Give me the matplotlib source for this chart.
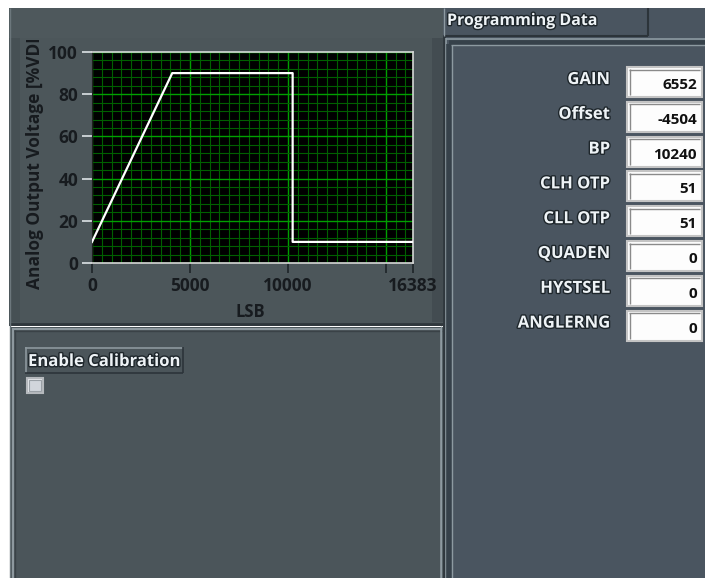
import matplotlib.pyplot as plt
import matplotlib.patheffects as pe
from matplotlib.patches import Rectangle
from matplotlib.transforms import Bbox
from matplotlib.ticker import MultipleLocator, FixedLocator

# ---- data ----
lsb = [0, 4096, 10240, 10240, 16383]
vout = [10, 90, 90, 10, 10]
x_ticks = [0, 5000, 10000, 15000, 16383]
x_ticklabels = ["0", "5000", "10000", "", "16383"]
y_ticks = [0, 20, 40, 60, 80, 100]

param_names = ["GAIN", "Offset", "BP", "CLH OTP", "CLL OTP", "QUADEN", "HYSTSEL", "ANGLERNG"]
param_values = ["6552", "-4504", "10240", "51", "51", "0", "0", "0"]

FONT = "Open Sans"
W, H = 705, 578
fig = plt.figure(figsize=(W / 100, H / 100), dpi=100, facecolor="white")

# background axes in pixel coordinates (y down)
bg = fig.add_axes([0, 0, 1, 1])
bg.set_xlim(0, W)
bg.set_ylim(H, 0)
bg.axis("off")


def rect(x0, y0, x1, y1, fc, ec="none", lw=0, z=1):
    bg.add_patch(Rectangle((x0, y0), x1 - x0, y1 - y0, facecolor=fc,
                           edgecolor=ec, linewidth=lw, zorder=z))


def hline(x0, x1, y, c, lw=1, z=2):
    bg.plot([x0, x1], [y, y], color=c, lw=lw, zorder=z, solid_capstyle="butt")


def vline(x, y0, y1, c, lw=1, z=2):
    bg.plot([x, x], [y0, y1], color=c, lw=lw, zorder=z, solid_capstyle="butt")


shadow = [pe.withStroke(linewidth=2, foreground="#1e262b")]

# ---- left top panel (graph) ----
rect(9, 8, 443, 326, "#4c565a")
rect(9, 8, 443, 38, "#4e585c", z=1.2)
rect(9, 38, 20, 322, "#465054", z=1.2)
rect(432, 38, 443, 322, "#434c51", z=1.2)
hline(9, 443, 324, "#30383d", lw=2)
vline(9.5, 8, 578, "#6c777c", lw=1)

# ---- left bottom panel ----
rect(11, 327, 443, 578, "#4b555a")
hline(12, 442, 328.5, "#8d989e", lw=1.5)
vline(12.5, 328, 578, "#8d989e", lw=1.5)
vline(14.5, 330, 578, "#3a4247", lw=1)
hline(14, 442, 331, "#3a4247", lw=1)
vline(441, 328, 578, "#8d989e", lw=1.2)

# ---- divider and right panel ----
rect(443, 8, W, H, "#4a5560")
vline(440.5, 326, 578, "#8d9aa1", lw=1)
vline(443.5, 8, 578, "#2f373d", lw=2)
vline(446, 38, 578, "#8d9aa1", lw=1.2)
vline(449, 44, 578, "#36414a", lw=4)
hline(446, W, 39, "#8d9aa1", lw=1.2)
hline(449, W, 42.5, "#36414a", lw=4)
vline(451.5, 45, 578, "#8d9aa1", lw=1)
hline(451, W, 45, "#8d9aa1", lw=1)

# "Programming Data" tab
rect(443, 8, 648, 36, "#4a5560", z=2)
hline(443, 648, 36, "#2c343a", lw=1.5, z=3)
vline(647.5, 8, 36, "#2c343a", lw=1.5, z=3)
vline(443.5, 8, 36, "#8d9aa1", lw=1, z=3)
bg.text(447, 21, "Programming Data", color="#eef3f6", fontsize=11.5,
        fontweight="bold", family=FONT, ha="left", va="center", zorder=4,
        path_effects=shadow)

# parameter rows
for i, (name, val) in enumerate(zip(param_names, param_values)):
    top = 67 + 34.8 * i
    bg.text(610, top + 12, name, color="#eef3f6", fontsize=12,
            fontweight="bold", family=FONT, ha="right", va="center",
            zorder=4, path_effects=shadow)
    rect(627, top, 702, top + 30, "#fdfdfd", ec="#c4c4c4", lw=1.5, z=3)
    hline(629, 700, top + 2.5, "#8a8a8a", lw=1, z=4)
    vline(629.5, top + 2, top + 28, "#8a8a8a", lw=1, z=4)
    bg.text(697, top + 18, val, color="#111111", fontsize=11,
            fontweight="bold", family=FONT, ha="right", va="center", zorder=5)

# ---- Enable Calibration control ----
rect(25, 347, 183, 373, "#4b555a", z=2)
hline(25, 183, 347.5, "#8d989e", lw=1.2, z=3)
vline(25.5, 347, 373, "#8d989e", lw=1.2, z=3)
hline(25, 183, 372.5, "#2c343a", lw=1.2, z=3)
vline(182.5, 347, 373, "#2c343a", lw=1.2, z=3)
bg.text(28, 361, "Enable Calibration", color="#eef3f6", fontsize=12,
        fontweight="bold", family=FONT, ha="left", va="center", zorder=4,
        path_effects=shadow)
rect(27, 378, 43, 393, "#e4e6ea", ec="#b5b9bd", lw=1.5, z=3)
rect(29, 380, 41, 391, "#d2d6dc", ec="#9aa0a6", lw=0.8, z=4)

# ---- graph ----
ax = fig.add_axes([92 / W, 1 - 263 / H, 321 / W, 211 / H])
ax.set_facecolor("black")
ax.plot(lsb, vout, color="white", lw=1.6, zorder=5)
ax.set_xlim(0, 16383)
ax.set_ylim(0, 100)

ax.xaxis.set_major_locator(FixedLocator(x_ticks))
ax.set_xticklabels(x_ticklabels)
ax.xaxis.set_minor_locator(MultipleLocator(500))
ax.yaxis.set_major_locator(FixedLocator(y_ticks))
ax.yaxis.set_minor_locator(MultipleLocator(4))

ax.grid(which="major", color="#00a000", lw=1.0)
ax.grid(which="minor", color="#006000", lw=0.8)
ax.set_axisbelow(True)

ax.tick_params(which="major", direction="out", length=7, width=1.2,
               labelcolor="#171b1f", labelsize=12.5, pad=3)
ax.tick_params(axis="x", which="major", color="#1e2428")
ax.tick_params(axis="y", which="major", color="#dde3e6")
ax.tick_params(which="minor", length=0)
for lab in ax.get_xticklabels() + ax.get_yticklabels():
    lab.set_fontfamily(FONT)
    lab.set_fontweight("bold")
for side in ["top", "right", "bottom"]:
    ax.spines[side].set_color("#d6d6d6")
    ax.spines[side].set_linewidth(1.2)
ax.spines["left"].set_color("#202020")

bg.text(250, 312, "LSB", color="#171b1f", fontsize=12, fontweight="bold",
        family=FONT, ha="center", va="center", zorder=4)

# y label is cut off by the panel edge, as in the original front panel
ylab = bg.text(35, 289, "Analog Output Voltage [%VDD]", color="#171b1f",
               fontsize=12.5, fontweight="bold", family=FONT, rotation=90,
               ha="center", va="bottom", zorder=4)
ylab.set_clip_box(Bbox.from_extents(0, 0, W, H - 40))
ylab.set_clip_on(True)

fig.savefig("out.png", dpi=100, facecolor="white")
